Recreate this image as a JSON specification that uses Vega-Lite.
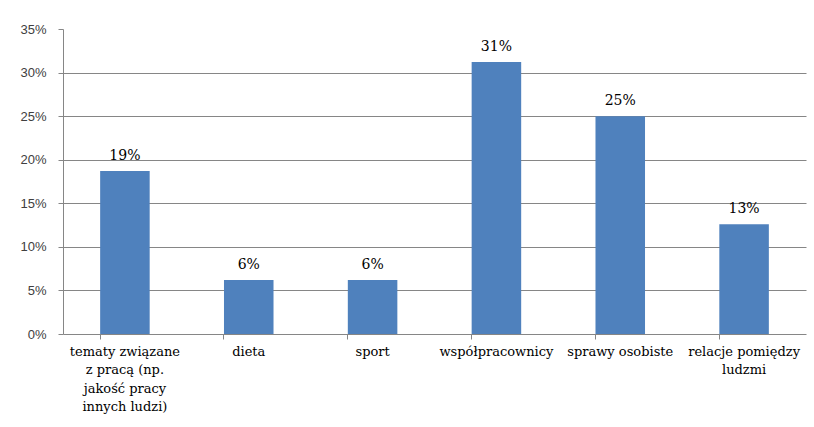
{
  "$schema": "https://vega.github.io/schema/vega-lite/v6.json",
  "width": 743,
  "height": 305,
  "autosize": {"type": "none"},
  "padding": {"left": 63, "top": 29, "right": 8, "bottom": 93},
  "background": "white",
  "config": {"view": {"stroke": null}},
  "data": {
    "values": [
      {"kategoria": "tematy związane|z pracą (np.|jakość pracy|innych ludzi)", "wartosc": 0.187},
      {"kategoria": "dieta", "wartosc": 0.062},
      {"kategoria": "sport", "wartosc": 0.062},
      {"kategoria": "współpracownicy", "wartosc": 0.312},
      {"kategoria": "sprawy osobiste", "wartosc": 0.25},
      {"kategoria": "relacje pomiędzy|ludzmi", "wartosc": 0.126}
    ]
  },
  "encoding": {
    "x": {
      "field": "kategoria",
      "type": "nominal",
      "sort": null,
      "title": null,
      "scale": {"paddingInner": 0.6, "paddingOuter": 0.3},
      "axis": {
        "labelExpr": "split(datum.label, '|')",
        "labelAngle": 0,
        "labelFont": "DejaVu Serif",
        "labelFontSize": 13,
        "labelColor": "#000000",
        "labelLineHeight": 18.5,
        "labelPadding": 6,
        "labelLimit": 200,
        "domainColor": "#868686",
        "tickColor": "#868686",
        "tickSize": 5,
        "bandPosition": 0,
        "grid": false
      }
    },
    "y": {
      "field": "wartosc",
      "type": "quantitative",
      "title": null,
      "scale": {"domain": [0, 0.35], "nice": false},
      "axis": {
        "values": [0, 0.05, 0.1, 0.15, 0.2, 0.25, 0.3, 0.35],
        "format": ".0%",
        "labelFont": "Liberation Sans",
        "labelFontSize": 13,
        "labelColor": "#404040",
        "labelPadding": 12,
        "domainColor": "#868686",
        "tickColor": "#868686",
        "tickSize": 5,
        "grid": true,
        "gridColor": "#868686",
        "gridOpacity": {"condition": {"test": "datum.value >= 0.35 || datum.value <= 0", "value": 0}, "value": 1}
      }
    }
  },
  "layer": [
    {"mark": {"type": "bar", "color": "#4F81BD"}},
    {
      "mark": {"type": "text", "baseline": "bottom", "dy": -8, "font": "DejaVu Serif", "fontSize": 14, "color": "#000000"},
      "encoding": {"text": {"field": "wartosc", "type": "quantitative", "format": ".0%"}}
    }
  ]
}
